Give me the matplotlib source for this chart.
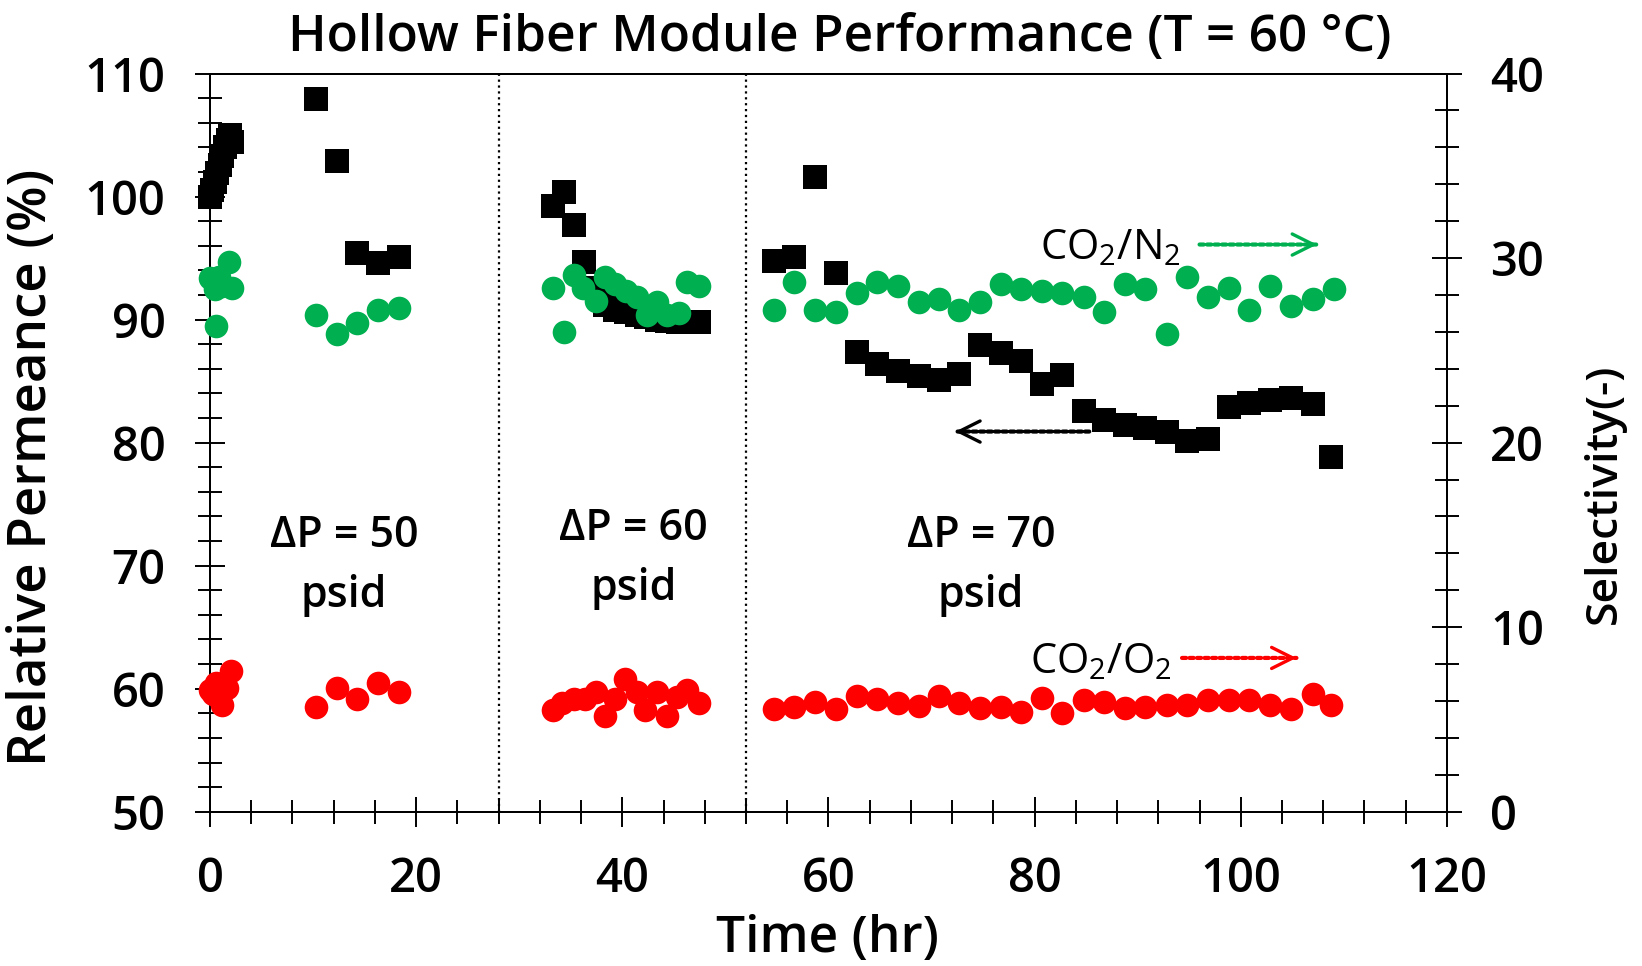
import numpy as np
import matplotlib
matplotlib.use("Agg")
import matplotlib.pyplot as plt
from matplotlib.ticker import MultipleLocator

plt.rcParams['font.family'] = ['Open Sans', 'DejaVu Sans']
matplotlib.rc('mathtext', fontset='custom', rm='Open Sans', default='rm')

# ---- data ----
# relative permeance (%), left axis
t_perm = [0, 0.2, 0.45, 0.7, 0.95, 1.2, 1.45, 1.7, 1.95, 2.1,
          10.3, 12.3, 14.3, 16.3, 18.3,
          33.3, 34.3, 35.3, 36.3, 37.4, 38.35, 39.3, 40.4, 41.4, 42.3, 43.4, 44.3, 45.4, 46.3, 47.4,
          54.7, 56.7, 58.7, 60.7, 62.8, 64.7, 66.7, 68.8, 70.7, 72.7, 74.7, 76.7, 78.7, 80.7,
          82.7, 84.8, 86.7, 88.8, 90.7, 92.8, 94.8, 96.8, 98.9, 100.8, 102.8, 104.9, 107.0, 108.8]
perm = [100.0, 100.5, 101.2, 101.9, 102.6, 103.3, 104.0, 104.6, 105.0, 104.4,
        107.9, 102.9, 95.4, 94.6, 95.1,
        99.2, 100.4, 97.7, 94.7, 92.6, 91.2, 90.8, 90.6, 90.4, 90.2, 90.0, 89.9, 89.8, 89.8, 89.8,
        94.8, 95.1, 101.6, 93.8, 87.4, 86.4, 85.8, 85.4, 85.1, 85.6, 87.9, 87.3, 86.6, 84.8,
        85.5, 82.6, 81.8, 81.4, 81.2, 80.9, 80.1, 80.3, 82.9, 83.2, 83.5, 83.6, 83.1, 78.8]

# CO2/N2 selectivity, right axis
t_n2 = [0, 0.5, 0.6, 0.9, 1.2, 1.8, 2.1,
        10.3, 12.3, 14.3, 16.3, 18.3,
        33.3, 34.3, 35.3, 36.2, 37.4, 38.35, 39.3, 40.4, 41.4, 42.4, 43.4, 44.3, 45.5, 46.3, 47.4,
        54.7, 56.7, 58.7, 60.7, 62.8, 64.7, 66.7, 68.8, 70.7, 72.7, 74.7, 76.7, 78.7, 80.7,
        82.7, 84.8, 86.7, 88.8, 90.7, 92.8, 94.8, 96.8, 98.9, 100.8, 102.8, 104.9, 107.0, 109.0]
sel_n2 = [28.9, 28.3, 26.3, 29.0, 28.5, 29.8, 28.4,
          26.9, 25.9, 26.5, 27.2, 27.3,
          28.4, 26.0, 29.1, 28.4, 27.7, 29.0, 28.6, 28.2, 27.9, 26.9, 27.6, 26.9, 27.0, 28.7, 28.5,
          27.2, 28.7, 27.2, 27.1, 28.1, 28.7, 28.5, 27.6, 27.8, 27.2, 27.6, 28.6, 28.3, 28.2,
          28.1, 27.9, 27.1, 28.6, 28.3, 25.9, 29.0, 27.9, 28.4, 27.2, 28.5, 27.4, 27.8, 28.3]

# CO2/O2 selectivity, right axis
t_o2 = [0, 0.3, 0.6, 1.0, 1.2, 1.6, 2.0,
        10.3, 12.3, 14.3, 16.3, 18.3,
        33.3, 34.1, 35.3, 36.4, 37.4, 38.35, 39.3, 40.3, 41.4, 42.2, 43.4, 44.3, 45.3, 46.3, 47.4,
        54.7, 56.7, 58.7, 60.7, 62.8, 64.7, 66.7, 68.8, 70.7, 72.7, 74.7, 76.7, 78.7, 80.7,
        82.7, 84.8, 86.7, 88.8, 90.7, 92.8, 94.8, 96.8, 98.9, 100.8, 102.8, 104.9, 107.0, 108.8]
sel_o2 = [6.6, 6.4, 7.0, 6.9, 5.8, 6.7, 7.6,
          5.7, 6.7, 6.1, 7.0, 6.5,
          5.5, 5.9, 6.1, 6.1, 6.5, 5.2, 6.1, 7.2, 6.5, 5.5, 6.5, 5.2, 6.2, 6.6, 5.9,
          5.55, 5.7, 5.95, 5.55, 6.25, 6.1, 5.9, 5.75, 6.25, 5.9, 5.6, 5.7, 5.4, 6.15,
          5.35, 6.05, 5.95, 5.6, 5.65, 5.8, 5.8, 6.05, 6.05, 6.05, 5.8, 5.55, 6.4, 5.8]

phase_breaks = [28, 52]
phase_labels = ["\u0394P = 50\npsid", "\u0394P = 60\npsid", "\u0394P = 70\npsid"]
phase_label_x = [13.0, 41.1, 74.8]
phase_label_y = [70.0, 70.6, 70.0]

GREEN = "#00B050"
RED = "#FF0000"

fig = plt.figure(figsize=(16.42, 9.66), dpi=100)
ax = fig.add_axes([0.1279, 0.1597, 0.7533, 0.7642])
ax2 = ax.twinx()

ax.plot(t_perm, perm, 's', color='black', ms=17, mec='black', mew=0, clip_on=False, zorder=3)
ax2.plot(t_n2, sel_n2, 'o', color=GREEN, ms=17, mew=0, clip_on=False, zorder=3)
ax2.plot(t_o2, sel_o2, 'o', color=RED, ms=17, mew=0, clip_on=False, zorder=3)

for xb in phase_breaks:
    ax.axvline(xb, color='black', ls=':', lw=1.6, zorder=1)

ax.set_xlim(0, 120)
ax.set_ylim(50, 110)
ax2.set_ylim(0, 40)

ax.xaxis.set_major_locator(MultipleLocator(20))
ax.xaxis.set_minor_locator(MultipleLocator(4))
ax.yaxis.set_major_locator(MultipleLocator(10))
ax.yaxis.set_minor_locator(MultipleLocator(2))
ax2.yaxis.set_major_locator(MultipleLocator(10))
ax2.yaxis.set_minor_locator(MultipleLocator(2))

for a in (ax, ax2):
    for s in a.spines.values():
        s.set_linewidth(1.4)
    a.tick_params(which='major', direction='inout', length=22, width=1.4, labelsize=34)
    a.tick_params(which='minor', direction='inout', length=17, width=1.4)
ax.tick_params(axis='x', which='both', top=False, pad=21)
ax.tick_params(axis='y', pad=21)
ax2.tick_params(axis='y', pad=20)
for lab in ax.get_xticklabels() + ax.get_yticklabels() + ax2.get_yticklabels():
    lab.set_fontweight('semibold')

ax.set_ylabel("Relative Permeance (%)", fontsize=38, fontweight='semibold')
ax.yaxis.set_label_coords(-0.122, 0.466)
ax2.set_ylabel("Selectivity(-)", fontsize=32, fontweight='semibold')
ax2.yaxis.set_label_coords(1.11, 0.43)
ax.set_xlabel("Time (hr)", fontsize=37, fontweight='semibold')
ax.xaxis.set_label_coords(0.499, -0.139)

fig.text(0.5115, 0.947, "Hollow Fiber Module Performance (T = 60 \u00b0C)",
         ha='center', va='baseline', fontsize=37, fontweight='semibold')

for x, y, s in zip(phase_label_x, phase_label_y, phase_labels):
    ax.text(x, y, s, ha='center', va='center', fontsize=31, fontweight='semibold',
            linespacing=1.5)

ax.text(87.4, 95.8, r"CO$_2$/N$_2$", ha='center', va='center', fontsize=30)
ax.text(86.4, 62.2, r"CO$_2$/O$_2$", ha='center', va='center', fontsize=30)


def dotted_arrow(x0, x1, y, color):
    ax.annotate('', xy=(x1, y), xytext=(x0, y),
                arrowprops=dict(arrowstyle='-', ls=(0, (1, 0.8)), lw=3.0, color=color,
                                shrinkA=0, shrinkB=0))
    d = 0.8 if x1 > x0 else -0.8
    ax.annotate('', xy=(x1, y), xytext=(x1 - d, y),
                arrowprops=dict(arrowstyle='->', lw=2.4, color=color, mutation_scale=38,
                                shrinkA=0, shrinkB=0))


dotted_arrow(96.0, 107.4, 96.1, GREEN)
dotted_arrow(85.3, 72.3, 80.9, 'black')
dotted_arrow(94.3, 105.4, 62.5, RED)

fig.savefig("out.png", dpi=100)
